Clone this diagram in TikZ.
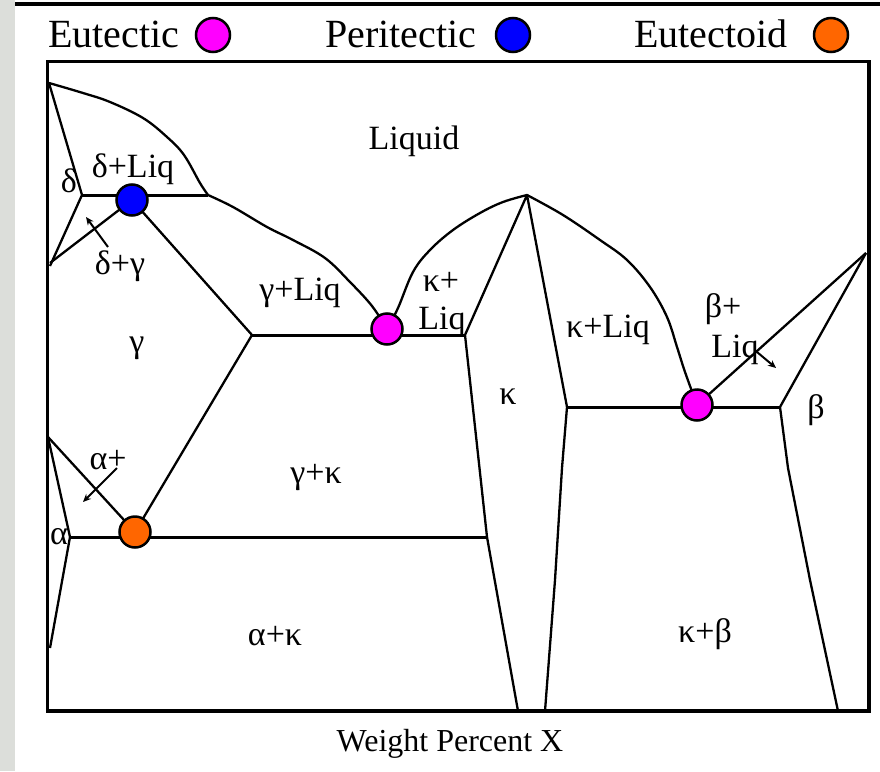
\documentclass[tikz,border=0pt]{standalone}
\usepackage{fontspec}
\setmainfont{Liberation Serif}
\usetikzlibrary{arrows.meta,calc}
\definecolor{eutCol}{HTML}{FF00FF}
\definecolor{periCol}{HTML}{0000FF}
\definecolor{eutdCol}{HTML}{FF6600}
\definecolor{stripCol}{HTML}{DCDEDA}

\begin{document}
\begin{tikzpicture}[
    x=1pt, y=-1pt,
    >={Stealth[length=8pt,width=7pt]},
    bnd/.style={line width=2.3pt, line join=round},
    inv/.style={line width=3pt},
    lead/.style={->, line width=2pt},
    lab/.style={font=\fontsize{34}{36}\selectfont, inner sep=0pt},
    leg/.style={font=\fontsize{40}{44}\selectfont, inner sep=0pt, anchor=west},
    pt/.style={circle, draw=black, line width=2.5pt, minimum size=31pt, inner sep=0pt},
    legpt/.style={pt, minimum size=34pt},
  ]
\useasboundingbox (0,0) rectangle (880,771);

% Page edge and top rule
\fill[stripCol] (0,0) rectangle (15,771);
\draw[line width=4pt] (15,3.5) -- (880,3.5);

% Legend
\node[leg] (legEut) at (48,34) {Eutectic};
\node[legpt, fill=eutCol] (legEutPt) at (213,35) {};
\node[leg] (legPer) at (325,34) {Peritectic};
\node[legpt, fill=periCol] (legPerPt) at (513,35) {};
\node[leg] (legEutd) at (634,34) {Eutectoid};
\node[legpt, fill=eutdCol] (legEutdPt) at (831,35) {};

% Frame
\draw[line width=3.5pt] (47.5,61.5) rectangle (869,711);

% Invariant points and corners
\coordinate (meltA) at (49,83);
\coordinate (perL) at (82,195);
\coordinate (perR) at (208,195);
\coordinate (perPt) at (132,200);
\coordinate (dgLow) at (50,266);
\coordinate (eutL) at (252,335);
\coordinate (eutR) at (465,335);
\coordinate (eutPt) at (387,329);
\coordinate (kTop) at (527,195);
\coordinate (eut2L) at (567,407);
\coordinate (eut2R) at (780,407);
\coordinate (eut2Pt) at (697,405);
\coordinate (meltB) at (866,253);
\coordinate (aTop) at (48,437);
\coordinate (edL) at (70,537);
\coordinate (edR) at (487,537);
\coordinate (edPt) at (135,532);

% Liquidus curves
\draw[bnd] plot[smooth, tension=0.6] coordinates {(meltA) (83,93) (110,102) (143,118)
  (167,137) (184,155) (200,183) (perR)};
\draw[bnd] plot[smooth, tension=0.6] coordinates {(perR) (233,207) (267,227) (293,240)
  (325,258) (350,282) (372,306) (eutPt)};
\draw[bnd] plot[smooth, tension=0.6] coordinates {(eutPt) (398,308) (413,272) (430,250)
  (453,230) (480,213) (503,202) (kTop)};
\draw[bnd] plot[smooth, tension=0.6] coordinates {(kTop) (563,215) (600,240) (627,260)
  (650,287) (667,317) (677,347) (685,372) (eut2Pt)};
\draw[bnd] (meltB) -- (eut2Pt);

% delta side
\draw[bnd] (meltA) -- (perL) -- (dgLow);
\draw[bnd] (perPt) -- (50,263);
\draw[bnd] (perPt) -- (eutL) -- (edPt);

% kappa phase
\draw[bnd] (eutR) -- (kTop) -- (eut2L);
\draw[bnd] (eutR) -- (edR) -- (518,711);
\draw[bnd] (eut2L) -- (562,468) -- (555,580) -- (545,711);

% beta phase
\draw[bnd] (meltB) -- (eut2R) -- (788,468) -- (810,580) -- (838,711);

% alpha phase
\draw[bnd] (aTop) -- (edL) -- (50,648);
\draw[bnd] (aTop) -- (edPt);

% Horizontal invariant lines
\draw[inv] (perL) -- (perR);
\draw[inv] (eutL) -- (eutR);
\draw[inv] (eut2L) -- (eut2R);
\draw[inv] (edL) -- (edR);

% Leaders into the thin two-phase fields
\draw[lead] (108,247) -- (86,217);
\draw[lead] (117,468) -- (83,502);
\draw[lead] (757,352) -- (776,368);

% Point markers
\node[pt, fill=periCol] (perDot) at (perPt) {};
\node[pt, fill=eutCol] (eutDot) at (eutPt) {};
\node[pt, fill=eutCol] (eut2Dot) at (eut2Pt) {};
\node[pt, fill=eutdCol] (edDot) at (edPt) {};

% Field labels
\node[lab] (liq) at (414,141) {Liquid};
\node[lab] (dl) at (133,169) {δ+Liq};
\node[lab] (d) at (69,181) {δ};
\node[lab] (dg) at (120,266) {δ+γ};
\node[lab] (gl) at (300,293) {γ+Liq};
\node[lab] (g) at (137,348) {γ};
\node[lab] (kl1) at (441,282) {κ+};
\node[lab] (kl2) at (442,322) {Liq};
\node[lab] (k) at (508,397) {κ};
\node[lab] (kl) at (608,330) {κ+Liq};
\node[lab] (bl1) at (723,309) {β+};
\node[lab] (bl2) at (735,350) {Liq};
\node[lab] (b) at (816,410) {β};
\node[lab] (gk) at (316,478) {γ+κ};
\node[lab] (ag) at (108,460) {α+};
\node[lab] (a) at (59,537) {α};
\node[lab] (ak) at (275,636) {α+κ};
\node[lab] (kb) at (705,634) {κ+β};

% Axis title
\node[lab, font=\fontsize{32}{34}\selectfont] (xlab) at (450,744) {Weight Percent X};

\end{tikzpicture}
\end{document}
